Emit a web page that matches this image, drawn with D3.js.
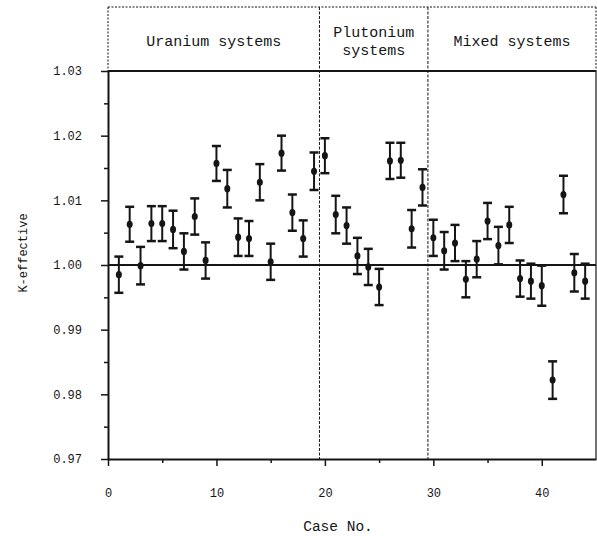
<!DOCTYPE html>
<html>
<head>
<meta charset="utf-8">
<script src="https://cdn.jsdelivr.net/npm/d3@7"></script>
<style>
  html, body { margin: 0; padding: 0; background: #fff; }
  svg { display: block; }
  text { font-family: "Liberation Mono", "DejaVu Sans Mono", monospace; fill: #151515; }
</style>
</head>
<body>
<svg id="chart" width="597" height="536"></svg>
<script>
// Calculated k-effective per benchmark case, with one-sigma statistical error
const caseNo = [1, 2, 3, 4, 5, 6, 7, 8, 9, 10,
                11, 12, 13, 14, 15, 16, 17, 18, 19, 20,
                21, 22, 23, 24, 25, 26, 27, 28, 29, 30,
                31, 32, 33, 34, 35, 36, 37, 38, 39, 40,
                41, 42, 43, 44];
const kEff = [0.9985, 1.0063, 0.9999, 1.0064, 1.0064, 1.0055, 1.0021, 1.0075, 1.0007, 1.0157,
              1.0118, 1.0043, 1.0041, 1.0128, 1.0005, 1.0173, 1.0081, 1.0041, 1.0145, 1.0169,
              1.0078, 1.0061, 1.0014, 0.9997, 0.9966, 1.0161, 1.0162, 1.0056, 1.0120, 1.0042,
              1.0022, 1.0034, 0.9978, 1.0009, 1.0068, 1.0030, 1.0062, 0.9979, 0.9975, 0.9968,
              0.9822, 1.0109, 0.9988, 0.9975];
const kErr = [0.0028, 0.0027, 0.0029, 0.0027, 0.0027, 0.0029, 0.0028, 0.0028, 0.0028, 0.0027,
              0.0029, 0.0029, 0.0027, 0.0028, 0.0028, 0.0027, 0.0028, 0.0028, 0.0029, 0.0027,
              0.0029, 0.0028, 0.0028, 0.0028, 0.0028, 0.0028, 0.0027, 0.0029, 0.0028, 0.0028,
              0.0029, 0.0028, 0.0028, 0.0028, 0.0028, 0.0029, 0.0028, 0.0028, 0.0027, 0.0031,
              0.0029, 0.0029, 0.0029, 0.0027];

// System groups: label lines and case-number boundaries
const groupLabels = [["Uranium systems"], ["Plutonium", "systems"], ["Mixed systems"]];
const groupBounds = [0, 19.5, 29.5, 45];

// Axis ticks
const xTicks = [0, 10, 20, 30, 40];
const xMinorTicks = [5, 15, 25, 35];
const yTicks = [0.97, 0.98, 0.99, 1.00, 1.01, 1.02, 1.03];
const yTickLabels = ["0.97", "0.98", "0.99", "1.00", "1.01", "1.02", "1.03"];
const yMinorTicks = [0.975, 0.985, 0.995, 1.005, 1.015, 1.025];
const xDomain = [0, 45];
const yDomain = [0.97, 1.03];
const reference = 1.00;

const svg = d3.select("#chart");
const left = 108, right = 596, headTop = 7, plotTop = 71, plotBottom = 459;
const ink = "#151515";

const x = d3.scaleLinear().domain(xDomain).range([left, right]);
const y = d3.scaleLinear().domain(yDomain).range([plotBottom, plotTop]);

// Header frame (dotted) above the plot
svg.append("line").attr("x1", left).attr("x2", right).attr("y1", headTop).attr("y2", headTop)
  .attr("stroke", ink).attr("stroke-width", 1).attr("stroke-dasharray", "2,1.5");
svg.append("line").attr("x1", left).attr("x2", left).attr("y1", headTop).attr("y2", plotTop)
  .attr("stroke", ink).attr("stroke-width", 1).attr("stroke-dasharray", "2,1.5");
svg.append("line").attr("x1", right).attr("x2", right).attr("y1", headTop).attr("y2", plotTop)
  .attr("stroke", ink).attr("stroke-width", 1).attr("stroke-dasharray", "2,1.5");
// Right frame of the plot area
svg.append("line").attr("x1", right).attr("x2", right).attr("y1", plotTop).attr("y2", plotBottom)
  .attr("stroke", ink).attr("stroke-width", 1.2);

// Group dividers (dashed, full height)
svg.append("g").selectAll("line").data(groupBounds.slice(1, -1)).join("line")
  .attr("x1", d => x(d)).attr("x2", d => x(d))
  .attr("y1", headTop).attr("y2", plotBottom)
  .attr("stroke", ink).attr("stroke-width", 1).attr("stroke-dasharray", "3,1.5");

// Group titles centred in each band
const titles = svg.append("g").attr("font-size", 15);
groupLabels.forEach((lines, i) => {
  const cx = (x(groupBounds[i]) + x(groupBounds[i + 1])) / 2;
  const cy = (headTop + plotTop) / 2 + 3;
  const lh = 18;
  lines.forEach((t, j) => {
    titles.append("text")
      .attr("x", cx)
      .attr("y", cy + (j - (lines.length - 1) / 2) * lh)
      .attr("text-anchor", "middle")
      .attr("dominant-baseline", "middle")
      .text(t);
  });
});

// Top boundary line at 1.03 and reference line at 1.00
[yDomain[1], reference].forEach(v => {
  svg.append("line").attr("x1", left).attr("x2", right).attr("y1", y(v)).attr("y2", y(v))
    .attr("stroke", ink).attr("stroke-width", 2);
});

// Y axis
const yAxis = svg.append("g").attr("transform", `translate(${left},0)`)
  .call(d3.axisLeft(y).tickValues(yTicks).tickSize(7).tickSizeOuter(0).tickPadding(19)
    .tickFormat((d, i) => yTickLabels[i]));
yAxis.select(".domain").attr("stroke", ink).attr("stroke-width", 2);
yAxis.selectAll(".tick line").attr("stroke", ink).attr("stroke-width", 1.5);
yAxis.selectAll(".tick text").attr("font-family", "Liberation Mono").attr("font-size", 12).attr("fill", ink);
svg.append("g").attr("transform", `translate(${left},0)`)
  .call(d3.axisLeft(y).tickValues(yMinorTicks).tickSize(4).tickFormat(""))
  .call(g => g.select(".domain").remove())
  .selectAll(".tick line").attr("stroke", ink).attr("stroke-width", 1.5);

// X axis
const xAxis = svg.append("g").attr("transform", `translate(0,${plotBottom})`)
  .call(d3.axisBottom(x).tickValues(xTicks).tickSize(7).tickSizeOuter(0).tickPadding(22)
    .tickFormat(d3.format("d")));
xAxis.select(".domain").attr("stroke", ink).attr("stroke-width", 2);
xAxis.selectAll(".tick line").attr("stroke", ink).attr("stroke-width", 1.5);
xAxis.selectAll(".tick text").attr("font-family", "Liberation Mono").attr("font-size", 12).attr("fill", ink);
svg.append("g").attr("transform", `translate(0,${plotBottom})`)
  .call(d3.axisBottom(x).tickValues(xMinorTicks).tickSize(4).tickFormat(""))
  .call(g => g.select(".domain").remove())
  .selectAll(".tick line").attr("stroke", ink).attr("stroke-width", 1.5);

// Axis titles
svg.append("text")
  .attr("x", 338)
  .attr("y", 527)
  .attr("text-anchor", "middle")
  .attr("dominant-baseline", "middle")
  .attr("font-size", 14.5)
  .text("Case No.");
svg.append("text")
  .attr("transform", `translate(24,${y(reference) - 12}) rotate(-90)`)
  .attr("text-anchor", "middle")
  .attr("dominant-baseline", "middle")
  .attr("font-size", 12)
  .text("K-effective");

// Error bars with point markers
const pts = caseNo.map((c, i) => ({ c, k: kEff[i], e: kErr[i] }));
const capHalf = 4.5;
const bars = svg.append("g").selectAll("g").data(pts).join("g");
bars.append("line")
  .attr("x1", d => x(d.c)).attr("x2", d => x(d.c))
  .attr("y1", d => y(d.k + d.e)).attr("y2", d => y(d.k - d.e))
  .attr("stroke", ink).attr("stroke-width", 2);
bars.append("line")
  .attr("x1", d => x(d.c) - capHalf).attr("x2", d => x(d.c) + capHalf)
  .attr("y1", d => y(d.k + d.e)).attr("y2", d => y(d.k + d.e))
  .attr("stroke", ink).attr("stroke-width", 2.5);
bars.append("line")
  .attr("x1", d => x(d.c) - capHalf).attr("x2", d => x(d.c) + capHalf)
  .attr("y1", d => y(d.k - d.e)).attr("y2", d => y(d.k - d.e))
  .attr("stroke", ink).attr("stroke-width", 2.5);
bars.append("ellipse")
  .attr("cx", d => x(d.c)).attr("cy", d => y(d.k))
  .attr("rx", 3).attr("ry", 3.6)
  .attr("fill", ink);
</script>
</body>
</html>
